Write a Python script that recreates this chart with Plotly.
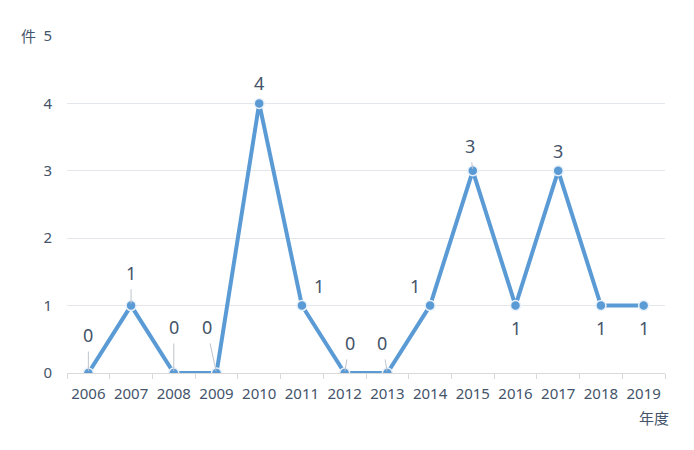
import plotly.graph_objects as go

years = ["2006", "2007", "2008", "2009", "2010", "2011", "2012",
         "2013", "2014", "2015", "2016", "2017", "2018", "2019"]
counts = [0, 1, 0, 0, 4, 1, 0, 0, 1, 3, 1, 3, 1, 1]
y_ticks = [0, 1, 2, 3, 4, 5]
# label offsets (pixels) relative to each point, and whether a leader line is drawn
label_dx = [0, 0, 0, -10, 0, 17, 5, -5, -15, -3, 0, 0, 0, 0]
label_dy = [-38, -33, -46, -46, -20, -20, -30, -30, -20, -25, 22, -20, 22, 22]
leader = [True, True, True, True, False, False, True, True, False, True, False, False, False, False]

TEXT = "#44546A"
BLUE = "#5B9BD5"
FONT = "Noto Sans, Noto Sans CJK SC, sans-serif"

fig = go.Figure()
fig.add_trace(go.Scatter(
    x=years, y=counts, mode="lines+markers",
    line=dict(color=BLUE, width=4),
    marker=dict(size=10, color=BLUE, line=dict(color="#EAF1FA", width=1.5)),
    hoverinfo="x+y", showlegend=False,
))

for i, (y, dx, dy, ld) in enumerate(zip(counts, label_dx, label_dy, leader)):
    fig.add_annotation(
        x=i, y=y, xref="x", yref="y", text=str(y),
        showarrow=ld, arrowhead=0, arrowwidth=1, arrowcolor="#BFC4CC",
        ax=dx, ay=dy, standoff=2, startstandoff=3,
        xshift=0 if ld else dx, yshift=0 if ld else -dy,
        font=dict(size=18, color=TEXT, family=FONT),
    )

fig.add_annotation(x=0, y=1, xref="paper", yref="paper", text="件",
                   showarrow=False, xanchor="center", yanchor="middle",
                   xshift=-39, font=dict(size=15, color=TEXT, family=FONT))
fig.add_annotation(x=1, y=0, xref="paper", yref="paper", text="年度",
                   showarrow=False, xanchor="center", yanchor="middle",
                   xshift=-11, yshift=-45, font=dict(size=15, color=TEXT, family=FONT))

fig.update_layout(
    width=694, height=450,
    margin=dict(l=67, r=29, t=36, b=77),
    paper_bgcolor="white", plot_bgcolor="white",
    font=dict(family=FONT, color=TEXT, size=15),
    xaxis=dict(type="category", range=[-0.5, len(years) - 0.5], showgrid=False,
               showline=True, linecolor="#D9D9D9",
               linewidth=1, ticks="outside", tickson="boundaries", ticklen=5,
               tickcolor="#D9D9D9", tickangle=0, ticklabelstandoff=7,
               tickfont=dict(size=15, color=TEXT), zeroline=False),
    yaxis=dict(range=[0, 5], tickvals=y_ticks, showgrid=True, gridcolor="#E3E6EB",
               gridwidth=1, zeroline=False, showline=False, ticks="",
               ticklabelstandoff=14, tickfont=dict(size=15, color=TEXT)),
)

fig.write_html("out.html")
